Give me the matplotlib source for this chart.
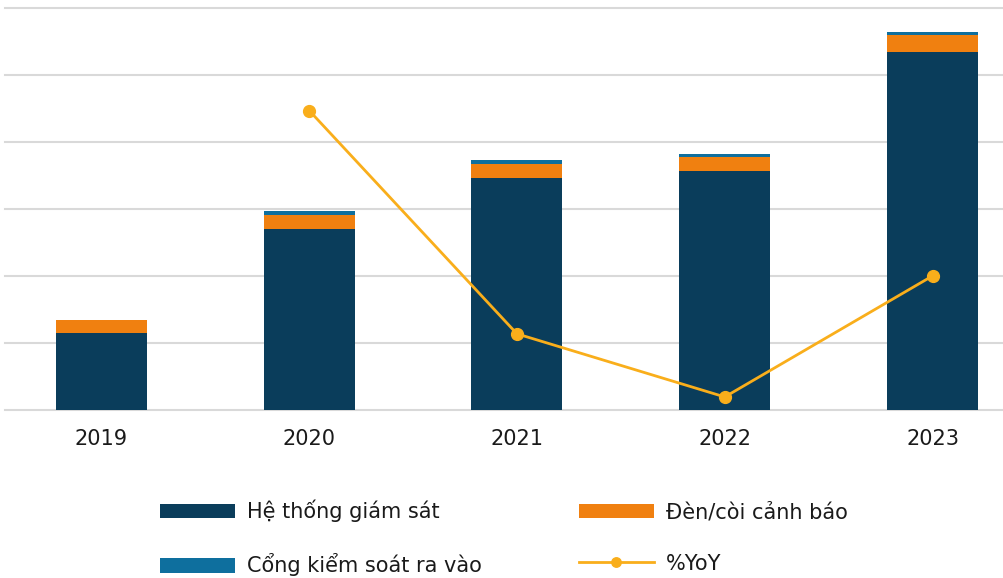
import matplotlib
matplotlib.use("Agg")
import matplotlib.pyplot as plt
import numpy as np

years = ["2019", "2020", "2021", "2022", "2023"]
he_thong = [1149, 2701, 3463, 3567, 5343]
den_coi = [194, 209, 209, 209, 254]
cong_ks = [0, 60, 60, 45, 45]
yoy = [np.nan, 107.8, 25.7, 2.5, 47.0]

c_dark = "#0A3D5B"
c_orange = "#F08010"
c_blue = "#0E6F9E"
c_line = "#F9AE1B"
c_grid = "#D9D9D9"

plt.rcParams['font.family'] = ['DejaVu Sans']

fig = plt.figure(figsize=(10.04, 5.78), dpi=100)
ax = fig.add_axes([5/1004, (578-410)/578, 999/1004, 402/578])

x = np.arange(len(years))
w = 0.438
b1 = ax.bar(x, he_thong, w, color=c_dark, label="Hệ thống giám sát", zorder=3)
b2 = ax.bar(x, den_coi, w, bottom=he_thong, color=c_orange, label="Đèn/còi cảnh báo", zorder=3)
bottom3 = np.array(he_thong) + np.array(den_coi)
b3 = ax.bar(x, cong_ks, w, bottom=bottom3, color=c_blue, label="Cổng kiểm soát ra vào", zorder=3)

ax.set_ylim(0, 6000)
ax.set_yticks(np.arange(0, 6001, 1000))
ax.yaxis.grid(True, color=c_grid, linewidth=1.5, zorder=0)
ax.set_axisbelow(True)
for gl in ax.get_ygridlines():
    gl.set_clip_on(False)
ax.set_xlim(-0.464, 4.344)
ax.set_xticks(x)
ax.set_xticklabels(years, fontsize=15, color="#1a1a1a")
ax.tick_params(axis='x', length=0, pad=14)
ax.tick_params(axis='y', length=0, labelleft=False)
for s in ax.spines.values():
    s.set_visible(False)

ax2 = ax.twinx()
l1, = ax2.plot(x, yoy, color=c_line, linewidth=2, marker='o', markersize=8.5,
               label="%YoY", zorder=4)
ax2.set_ylim(-2.3, 145.5)
ax2.set_yticks([])
for s in ax2.spines.values():
    s.set_visible(False)

leg = fig.legend([b1, b3, b2, l1],
                 ["Hệ thống giám sát", "Cổng kiểm soát ra vào", "Đèn/còi cảnh báo", "%YoY"],
                 ncol=2, loc='upper left', bbox_to_anchor=(141/1004, 1 - 481/578),
                 frameon=False, fontsize=15, handlelength=3.6, handleheight=0.7,
                 handletextpad=0.6, labelspacing=1.5, columnspacing=4.63,
                 markerscale=0.8)
for t in leg.get_texts():
    t.set_color("#1a1a1a")

fig.savefig("out.png", dpi=100)
